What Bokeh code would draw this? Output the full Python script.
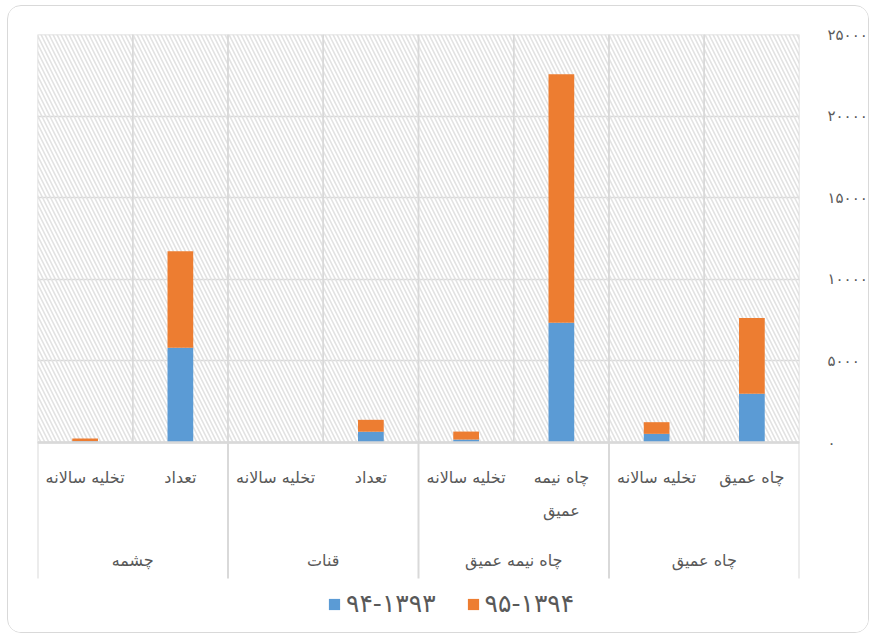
from bokeh.plotting import figure
from bokeh.models import (FactorRange, ColumnDataSource, FixedTicker, Range1d, Legend,
                          LegendItem, Span)
from bokeh.core.properties import value
from bokeh.embed import file_html
from bokeh.resources import INLINE

# ---- data (display order, left to right) ----
groups = ["چشمه", "چشمه", "قنات", "قنات", "چاه نیمه عمیق", "چاه نیمه عمیق", "چاه عمیق", "چاه عمیق"]
subs = ["تخلیه سالانه", "تعداد", "تخلیه سالانه", "تعداد", "تخلیه سالانه", "چاه نیمه\nعمیق", "تخلیه سالانه", "چاه عمیق"]
s_9394 = [80, 5810, 0, 660, 180, 7340, 530, 2990]
s_9495 = [170, 5910, 0, 730, 490, 15220, 715, 4640]
series_names = ["۹۴-۱۳۹۳", "۹۵-۱۳۹۴"]
y_ticks = [0, 5000, 10000, 15000, 20000, 25000]
y_tick_labels = ["۰", "۵۰۰۰", "۱۰۰۰۰", "۱۵۰۰۰", "۲۰۰۰۰", "۲۵۰۰۰"]
y_max = 25000

BLUE = "#5B9BD5"
ORANGE = "#ED7D31"
GRID = "#d9d9d9"
TXT = "#595959"
FONT = "DejaVu Sans"

# ---- geometry (pixels) ----
W, H = 862, 628
B_LEFT, B_RIGHT, B_TOP, B_BOTTOM = 29, 67, 28, 6
PLOT_PX = 408                      # pixel height of the 0..y_max value area
FRAME_PX = H - B_TOP - B_BOTTOM    # whole frame incl. category label band
U = y_max / PLOT_PX                # data units per pixel
y_start = -(FRAME_PX - PLOT_PX) * U

SUB_ROW, LINE_GAP, GROUP_ROW, SEP_LEN = 35, 33, 118, 136

factors = list(zip(groups, subs))
group_names = list(dict.fromkeys(groups))

src = ColumnDataSource(dict(x=factors, a=s_9394, b=s_9495, top=[y_max] * len(factors)))

p = figure(width=W, height=H, output_backend="svg", toolbar_location=None,
           x_range=FactorRange(*factors, factor_padding=0, group_padding=0, range_padding=0),
           y_range=Range1d(y_start, y_max), y_axis_location="right",
           min_border_left=B_LEFT, min_border_right=B_RIGHT, min_border_top=B_TOP,
           min_border_bottom=B_BOTTOM)
p.styles = {"border": "1px solid #d9d9d9", "border-radius": "14px", "overflow": "hidden",
            "margin-left": "7px", "margin-top": "5px"}

# hatched background cells
p.vbar(x="x", top="top", bottom=0, width=1, source=src, fill_color=None,
       line_color=GRID, line_width=1.5, hatch_pattern="\\", hatch_color="#e2e2e2",
       hatch_weight=1.6, hatch_scale=8)

# horizontal category axis line
p.add_layout(Span(location=0, dimension="width", line_color=GRID, line_width=2.5))

rs = p.vbar_stack(["a", "b"], x="x", width=0.27, color=[BLUE, ORANGE], source=src,
                  line_color=None)

# category labels (sub level, possibly wrapped)
lx, ly, lt = [], [], []
for f in factors:
    for k, line in enumerate(f[1].split("\n")):
        lx.append(f)
        ly.append(-(SUB_ROW + k * LINE_GAP) * U)
        lt.append(line)
p.text(x=lx, y=ly, text=lt, text_align="center", text_baseline="middle",
       text_font=value(FONT), text_font_size="16px", text_color=TXT)

# group labels
p.text(x=group_names, y=[-GROUP_ROW * U] * len(group_names), text=group_names,
       text_align="center", text_baseline="middle",
       text_font=value(FONT), text_font_size="16px", text_color=TXT)

# group separators in the label band
sep_x = []
for g in group_names:
    first = next(f for f in factors if f[0] == g)
    sep_x.append((first[0], first[1], -0.5))
sep_x.append((factors[-1][0], factors[-1][1], 0.5))
p.segment(x0=sep_x, x1=sep_x, y0=[0] * len(sep_x), y1=[-SEP_LEN * U] * len(sep_x),
          line_color=GRID, line_width=2)

legend = Legend(items=[LegendItem(label=series_names[0], renderers=[rs[0]]),
                       LegendItem(label=series_names[1], renderers=[rs[1]])],
                orientation="horizontal", location=(290, 10),
                label_text_font_size="25px", label_text_color=TXT, label_text_font=FONT,
                glyph_width=14, glyph_height=14, spacing=30, padding=0, margin=0,
                label_standoff=5, border_line_color=None, background_fill_alpha=0)
p.add_layout(legend, "center")

p.outline_line_color = None
p.xaxis.visible = False
p.xgrid.grid_line_color = None
p.ygrid.grid_line_color = GRID
p.ygrid.grid_line_width = 1.5
p.ygrid.ticker = FixedTicker(ticks=y_ticks)

ya = p.yaxis[0]
ya.ticker = FixedTicker(ticks=y_ticks)
ya.major_label_overrides = {t: l for t, l in zip(y_ticks, y_tick_labels)}
ya.axis_line_color = None
ya.major_tick_line_color = None
ya.minor_tick_line_color = None
ya.major_label_text_font = FONT
ya.major_label_text_font_size = "15px"
ya.major_label_text_color = TXT
ya.major_label_standoff = 22

p.background_fill_color = "white"
p.border_fill_color = "white"

open("out.html", "w").write(file_html(p, INLINE))
